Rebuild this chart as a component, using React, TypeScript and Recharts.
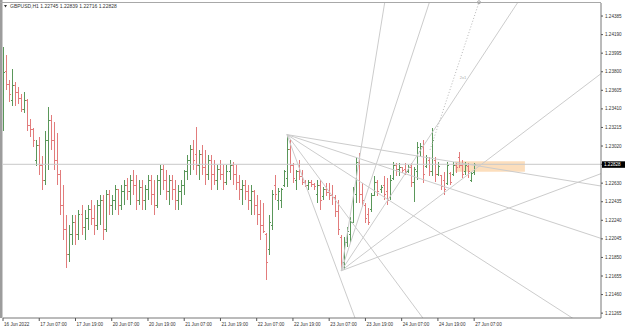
import React from 'react';
import {
  ComposedChart,
  Bar,
  XAxis,
  YAxis,
  ReferenceLine,
  ReferenceArea,
  ReferenceDot,
  Customized,
} from 'recharts';

const symbolTitle = 'GBPUSD,H1  1.22745 1.22839 1.22716 1.22828';

const opens = [
  1.2329,1.2380,1.2367,1.2350,1.2366,1.2358,1.2352,1.2340,1.2350,1.2324,
  1.2319,1.2287,1.2303,1.2282,1.2266,1.2308,1.2329,1.2308,1.2287,1.2272,
  1.2240,1.2214,1.2188,1.2209,1.2222,1.2209,1.2230,1.2216,1.2226,1.2235,
  1.2226,1.2219,1.2240,1.2245,1.2214,1.2251,1.2240,1.2245,1.2256,1.2240,
  1.2254,1.2261,1.2254,1.2266,1.2261,1.2245,1.2258,1.2245,1.2256,1.2266,
  1.2251,1.2240,1.2266,1.2277,1.2266,1.2254,1.2266,1.2256,1.2245,1.2254,
  1.2261,1.2275,1.2287,1.2298,1.2293,1.2282,1.2293,1.2279,1.2272,1.2287,
  1.2272,1.2266,1.2277,1.2272,1.2264,1.2275,1.2282,1.2272,1.2264,1.2256,
  1.2261,1.2254,1.2245,1.2254,1.2240,1.2230,1.2219,1.2209,1.2193,1.2219,
  1.2261,1.2245,1.2245,1.2261,1.2268,1.2298,1.2282,1.2266,1.2275,1.2270,
  1.2264,1.2261,1.2264,1.2262,1.2251,1.2261,1.2249,1.2256,1.2253,1.2250,
  1.2248,1.2233,1.2206,1.2180,1.2201,1.2209,1.2222,1.2251,1.2285,1.2251,
  1.2240,1.2230,1.2235,1.2250,1.2264,1.2256,1.2261,1.2254,1.2248,1.2268,
  1.2282,1.2277,1.2279,1.2277,1.2275,1.2279,1.2264,1.2275,1.2296,1.2301,
  1.2281,1.2287,1.2275,1.2287,1.2272,1.2271,1.2266,1.2263,1.2273,1.2272,
  1.2282,1.2290,1.2282,1.2275,1.2281,1.2266,1.22745,
];

const highs = [
  1.2406,1.2398,1.2371,1.2383,1.2369,1.2364,1.2357,1.2359,1.2351,1.2330,
  1.2321,1.2308,1.2312,1.2292,1.2318,1.2343,1.2335,1.2327,1.2316,1.2277,
  1.2261,1.2230,1.2219,1.2230,1.2230,1.2235,1.2240,1.2235,1.2240,1.2245,
  1.2240,1.2245,1.2251,1.2251,1.2256,1.2256,1.2251,1.2261,1.2256,1.2261,
  1.2266,1.2268,1.2272,1.2277,1.2272,1.2266,1.2266,1.2261,1.2272,1.2272,
  1.2266,1.2272,1.2282,1.2282,1.2277,1.2272,1.2272,1.2266,1.2261,1.2266,
  1.2277,1.2293,1.2303,1.2308,1.2322,1.2298,1.2303,1.2298,1.2293,1.2293,
  1.2287,1.2282,1.2287,1.2282,1.2282,1.2287,1.2285,1.2282,1.2272,1.2266,
  1.2266,1.2261,1.2261,1.2256,1.2251,1.2245,1.2242,1.2211,1.2230,1.2256,
  1.2272,1.2258,1.2258,1.2277,1.2314,1.2308,1.2284,1.2277,1.2287,1.2277,
  1.2266,1.2266,1.2266,1.2263,1.2266,1.2266,1.2259,1.2263,1.2263,1.2261,
  1.2251,1.2245,1.2209,1.2206,1.2217,1.2227,1.2259,1.2290,1.2295,1.2263,
  1.2242,1.2237,1.2253,1.2270,1.2266,1.2261,1.2270,1.2268,1.2272,1.2285,
  1.2284,1.2284,1.2280,1.2284,1.2282,1.2284,1.2280,1.2306,1.2305,1.2308,
  1.2293,1.2291,1.2321,1.2291,1.2285,1.2272,1.2275,1.2285,1.2275,1.2285,
  1.2284,1.2296,1.2287,1.2285,1.2284,1.2275,1.22839,
];

const lows = [
  1.2318,1.2361,1.2348,1.2344,1.2344,1.2346,1.2338,1.2337,1.2318,1.2312,
  1.2301,1.2281,1.2272,1.2256,1.2261,1.2277,1.2298,1.2277,1.2261,1.2230,
  1.2203,1.2174,1.2180,1.2198,1.2198,1.2203,1.2209,1.2203,1.2214,1.2219,
  1.2209,1.2214,1.2219,1.2203,1.2212,1.2230,1.2230,1.2235,1.2230,1.2235,
  1.2240,1.2245,1.2240,1.2251,1.2235,1.2240,1.2235,1.2235,1.2245,1.2240,
  1.2230,1.2237,1.2251,1.2256,1.2245,1.2240,1.2245,1.2235,1.2235,1.2240,
  1.2251,1.2266,1.2272,1.2277,1.2272,1.2266,1.2272,1.2261,1.2266,1.2256,
  1.2261,1.2256,1.2266,1.2256,1.2261,1.2266,1.2261,1.2256,1.2245,1.2240,
  1.2245,1.2235,1.2230,1.2230,1.2219,1.2203,1.2211,1.2161,1.2188,1.2214,
  1.2245,1.2235,1.2237,1.2259,1.2259,1.2274,1.2263,1.2256,1.2266,1.2261,
  1.2259,1.2256,1.2259,1.2256,1.2242,1.2235,1.2245,1.2249,1.2245,1.2240,
  1.2227,1.2209,1.2171,1.2172,1.2196,1.2200,1.2222,1.2242,1.2242,1.2238,
  1.2221,1.2219,1.2233,1.2249,1.2249,1.2253,1.2245,1.2240,1.2245,1.2266,
  1.2270,1.2271,1.2274,1.2272,1.2274,1.2259,1.2243,1.2266,1.2291,1.2263,
  1.2279,1.2270,1.2270,1.2264,1.2270,1.2256,1.2251,1.2261,1.2261,1.2270,
  1.2274,1.2279,1.2268,1.2272,1.2268,1.2264,1.22716,
];

const closes = [
  1.2379,1.2367,1.2356,1.2366,1.2358,1.2352,1.2340,1.2350,1.2324,1.2319,
  1.2308,1.2303,1.2282,1.2266,1.2308,1.2329,1.2308,1.2287,1.2272,1.2240,
  1.2214,1.2188,1.2209,1.2222,1.2209,1.2230,1.2216,1.2226,1.2235,1.2226,
  1.2219,1.2240,1.2245,1.2214,1.2251,1.2240,1.2245,1.2256,1.2240,1.2254,
  1.2261,1.2254,1.2266,1.2261,1.2245,1.2258,1.2245,1.2256,1.2266,1.2251,
  1.2240,1.2266,1.2277,1.2266,1.2254,1.2266,1.2256,1.2245,1.2254,1.2261,
  1.2275,1.2287,1.2298,1.2287,1.2282,1.2293,1.2279,1.2272,1.2287,1.2272,
  1.2266,1.2277,1.2272,1.2264,1.2275,1.2282,1.2272,1.2264,1.2256,1.2261,
  1.2254,1.2245,1.2254,1.2240,1.2230,1.2219,1.2212,1.2180,1.2222,1.2251,
  1.2251,1.2254,1.2256,1.2275,1.2298,1.2282,1.2268,1.2275,1.2270,1.2264,
  1.2261,1.2264,1.2262,1.2260,1.2261,1.2245,1.2256,1.2253,1.2250,1.2248,
  1.2233,1.2214,1.2180,1.2201,1.2212,1.2222,1.2256,1.2285,1.2251,1.2245,
  1.2226,1.2222,1.2250,1.2264,1.2254,1.2258,1.2251,1.2245,1.2266,1.2282,
  1.2277,1.2279,1.2276,1.2274,1.2279,1.2264,1.2277,1.2300,1.2301,1.2272,
  1.2290,1.2275,1.2308,1.2272,1.2281,1.2260,1.2256,1.2282,1.2264,1.2282,
  1.2279,1.2282,1.2272,1.2282,1.2275,1.2273,1.22828,
];

const timeLabels = [
  '16 Jun 2022', '17 Jun 07:00', '17 Jun 19:00', '20 Jun 07:00', '20 Jun 19:00',
  '21 Jun 07:00', '21 Jun 19:00', '22 Jun 07:00', '22 Jun 19:00', '23 Jun 07:00',
  '23 Jun 19:00', '24 Jun 07:00', '24 Jun 19:00', '27 Jun 07:00',
];
const barsPerLabel = 12;

const priceTicks = [
  1.24385, 1.2419, 1.23995, 1.238, 1.23605, 1.2341, 1.23215, 1.2302,
  1.22828,
  1.2263, 1.22435, 1.2224, 1.22045, 1.2185, 1.21655, 1.2146, 1.21265,
];
const currentPrice = 1.22828;

// Gann fans: anchor (bar index, price) and far end points
const fanHighAnchor = { i: 94, p: 1.2314 };
const fanHighEnds = [
  { i: 116.6, p: 1.2121 },
  { i: 139.1, p: 1.2121 },
  { i: 188.7, p: 1.2121 },
  { i: 198, p: 1.2205 },
  { i: 198, p: 1.226 },
];
const fanLowAnchor = { i: 112, p: 1.2171 };
const fanLowEnds = [
  { i: 126.5, p: 1.2455 },
  { i: 141.4, p: 1.2455 },
  { i: 170.9, p: 1.2455 },
  { i: 198, p: 1.2378 },
  { i: 198, p: 1.2273 },
];
const dottedLine = [
  { i: 141.4, p: 1.2298 },
  { i: 157.6, p: 1.2453 },
];
const zone = { i1: 149.7, i2: 172.8, p1: 1.2275, p2: 1.2286 };
const fanLabel = { i: 152.3, p: 1.2374, text: '2x1' };

const X_DOMAIN: [number, number] = [0, 198];
const Y_DOMAIN: [number, number] = [1.21214, 1.24522];

const GREEN = '#5a975a';
const RED = '#e27c7c';
const FAN = '#cccccc';
const FONT = 'Liberation Sans, Arial, sans-serif';
const FS = 4.6;

const data = opens.map((o, i) => ({
  i,
  o,
  h: highs[i],
  l: lows[i],
  c: closes[i],
  range: [lows[i], highs[i]],
}));

const xTicks = timeLabels.map((_, k) => k * barsPerLabel);

const OhlcShape = (props: any) => {
  const { x, y, width, height, payload } = props;
  if (!payload) return null;
  const { o, h, l, c } = payload;
  const top = Math.min(y, y + height);
  const bot = Math.max(y, y + height);
  const span = h - l || 1e-9;
  const yo = top + ((h - o) / span) * (bot - top);
  const yc = top + ((h - c) / span) * (bot - top);
  const cx = Math.round(x + width / 2) + 0.5;
  const color = c >= o ? GREEN : RED;
  return (
    <g stroke={color} strokeWidth={1} shapeRendering="crispEdges">
      <line x1={cx} x2={cx} y1={top} y2={bot} />
      <line x1={cx - 1.5} x2={cx} y1={yo} y2={yo} />
      <line x1={cx} x2={cx + 1.5} y1={yc} y2={yc} />
    </g>
  );
};

const XTick = (props: any) => {
  const { x, y, payload } = props;
  const k = Math.round(payload.value / barsPerLabel);
  return (
    <text x={x + 1} y={y} dy={3.8} fontSize={FS} fontFamily={FONT} fill="#333" textAnchor="start">
      {timeLabels[k]}
    </text>
  );
};

const YTick = (props: any) => {
  const { x, y, payload } = props;
  const v = payload.value as number;
  const label = v.toFixed(5);
  if (Math.abs(v - currentPrice) < 1e-7) {
    return (
      <g>
        <rect x={x - 3} y={y - 3} width={23} height={6.5} fill="#000" />
        <text x={x - 1} y={y} dy={1.6} fontSize={FS} fontFamily={FONT} fill="#fff">
          {label}
        </text>
      </g>
    );
  }
  return (
    <text x={x} y={y} dy={1.6} fontSize={FS} fontFamily={FONT} fill="#333" textAnchor="start">
      {label}
    </text>
  );
};

const Decor = () => (
  <g>
    <rect x={0} y={0} width={2.5} height={318} fill="#9c9c9c" />
    <line x1={0} x2={601} y1={2.5} y2={2.5} stroke="#a8a8a8" strokeWidth={1} />
    <path d="M4,5 L7,5 L5.5,7.5 Z" fill="#333" />
    <text x={10} y={7.8} fontSize={5} fontFamily={FONT} fill="#333">
      {symbolTitle}
    </text>
  </g>
);

export default function App() {
  return (
    <div style={{ position: 'fixed', left: 0, top: 0, width: 625, height: 331, background: '#fff' }}>
      <ComposedChart
        width={625}
        height={331}
        data={data}
        margin={{ top: 3, right: 0, bottom: 0, left: 3 }}
      >
        <XAxis
          dataKey="i"
          type="number"
          domain={X_DOMAIN}
          allowDataOverflow
          ticks={xTicks}
          interval={0}
          height={13}
          tickSize={3}
          tickMargin={1}
          tick={<XTick />}
          tickLine={{ stroke: '#555' }}
          axisLine={{ stroke: '#777' }}
        />
        <YAxis
          orientation="right"
          type="number"
          domain={Y_DOMAIN}
          allowDataOverflow
          ticks={priceTicks}
          interval={0}
          width={24}
          tickSize={2}
          tickMargin={2}
          tick={<YTick />}
          tickLine={{ stroke: '#555' }}
          axisLine={{ stroke: '#777' }}
        />
        <ReferenceArea
          x1={zone.i1}
          x2={zone.i2}
          y1={zone.p1}
          y2={zone.p2}
          fill="#fbd3a6"
          fillOpacity={0.75}
          stroke="none"
          ifOverflow="hidden"
        />
        <ReferenceLine y={currentPrice} stroke="#c8c8c8" strokeWidth={1} />
        {fanHighEnds.map((e, k) => (
          <ReferenceLine
            key={'h' + k}
            segment={[{ x: fanHighAnchor.i, y: fanHighAnchor.p }, { x: e.i, y: e.p }]}
            stroke={FAN}
            strokeWidth={1}
            ifOverflow="hidden"
          />
        ))}
        {fanLowEnds.map((e, k) => (
          <ReferenceLine
            key={'l' + k}
            segment={[{ x: fanLowAnchor.i, y: fanLowAnchor.p }, { x: e.i, y: e.p }]}
            stroke={FAN}
            strokeWidth={1}
            ifOverflow="hidden"
          />
        ))}
        <ReferenceLine
          segment={[{ x: dottedLine[0].i, y: dottedLine[0].p }, { x: dottedLine[1].i, y: dottedLine[1].p }]}
          stroke="#b8b8b8"
          strokeDasharray="1 2"
          strokeWidth={1}
          ifOverflow="hidden"
        />
        <ReferenceDot
          x={dottedLine[1].i}
          y={dottedLine[1].p}
          r={1.5}
          fill="none"
          stroke="#aaa"
          ifOverflow="visible"
        />
        <ReferenceDot
          x={fanLabel.i}
          y={fanLabel.p}
          r={0.01}
          fill="none"
          stroke="none"
          label={{ value: fanLabel.text, fontSize: 4, fill: '#aaa', fontFamily: FONT }}
        />
        <Bar
          dataKey="range"
          barSize={3}
          isAnimationActive={false}
          shape={<OhlcShape />}
        />
        <Customized component={<Decor />} />
      </ComposedChart>
    </div>
  );
}
